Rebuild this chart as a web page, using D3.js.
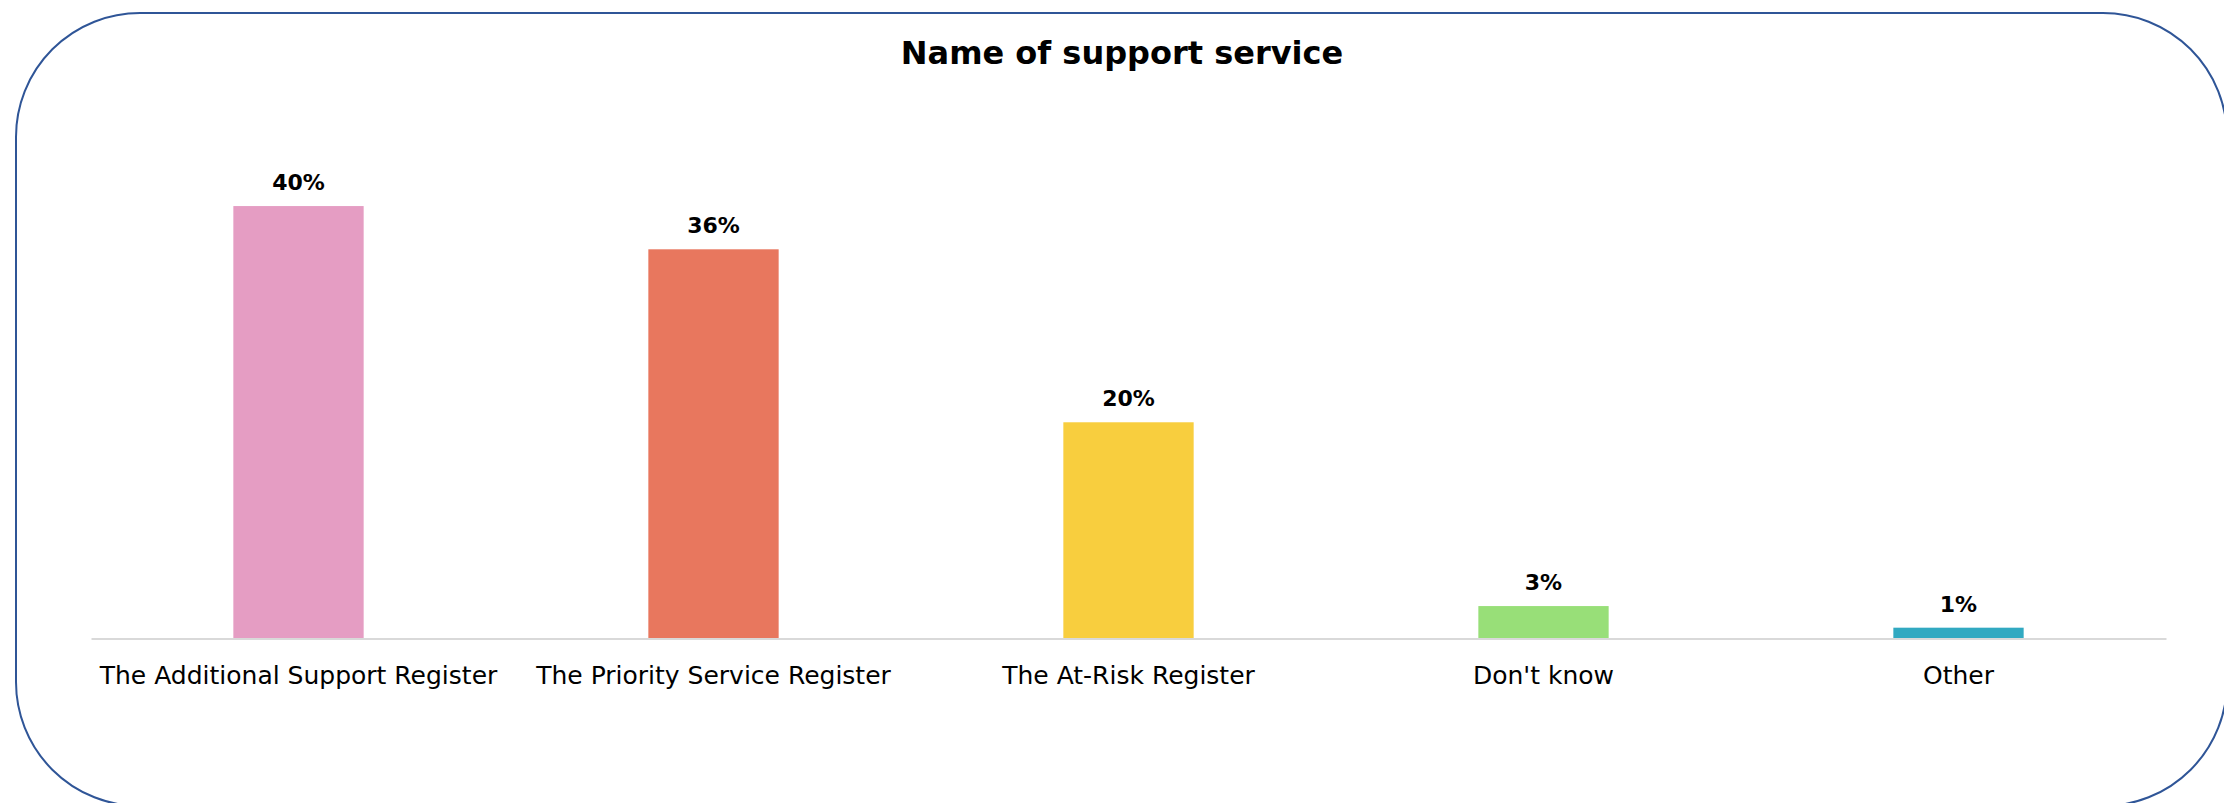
<!DOCTYPE html>
<html>
<head>
<meta charset="utf-8">
<script src="https://cdn.jsdelivr.net/npm/d3@7"></script>
<style>
  html, body { margin: 0; padding: 0; background: #fff; }
  svg { display: block; }
  text { font-family: "Century Gothic", "DejaVu Sans", sans-serif; }
</style>
</head>
<body>
<svg id="chart" width="2224" height="803"></svg>
<script>
// Survey responses: which register the support service is known as
const categories = [
  "The Additional Support Register",
  "The Priority Service Register",
  "The At-Risk Register",
  "Don't know",
  "Other"
];
const shares = [40, 36, 20, 3, 1];
const barColors = ["#E59DC3", "#E8775E", "#F8CE3E", "#98DF78", "#31A9C1"];
const title = "Name of support service";

const W = 2224, H = 803;
const svg = d3.select("#chart");

// rounded outer frame
svg.append("rect")
  .attr("x", 16).attr("y", 13)
  .attr("width", 2211).attr("height", 793)
  .attr("rx", 124).attr("ry", 124)
  .attr("fill", "#fff")
  .attr("stroke", "#2F5597")
  .attr("stroke-width", 2);

const plot = { left: 91, right: 2166, top: 152, bottom: 638.5 };

const x = d3.scaleBand()
  .domain(categories)
  .range([plot.left, plot.right])
  .paddingInner(0.686)
  .paddingOuter(0.343);

const y = d3.scaleLinear()
  .domain([0, 45])
  .range([plot.bottom, plot.top]);

const data = categories.map((c, i) => ({ cat: c, v: shares[i], color: barColors[i] }));

// bars
svg.append("g")
  .selectAll("rect")
  .data(data)
  .join("rect")
  .attr("x", d => x(d.cat))
  .attr("y", d => y(d.v))
  .attr("width", x.bandwidth())
  .attr("height", d => y(0) - y(d.v))
  .attr("fill", d => d.color);

// category axis
const axis = svg.append("g")
  .attr("transform", `translate(0,${plot.bottom})`)
  .call(d3.axisBottom(x).tickSize(0).tickPadding(28).tickSizeOuter(0));
axis.select(".domain")
  .attr("stroke", "#D9D9D9")
  .attr("stroke-width", 2);
axis.selectAll(".tick text")
  .attr("fill", "#000")
  .style("font-size", "25px")
  .style("font-family", "\"Century Gothic\", \"DejaVu Sans\", sans-serif");

// value labels
svg.append("g")
  .selectAll("text")
  .data(data)
  .join("text")
  .attr("x", d => x(d.cat) + x.bandwidth() / 2)
  .attr("y", d => y(d.v) - 16)
  .attr("text-anchor", "middle")
  .attr("font-size", 22)
  .attr("font-weight", "bold")
  .attr("fill", "#000")
  .text(d => d.v + "%");

// title
svg.append("text")
  .attr("x", 1122)
  .attr("y", 64)
  .attr("text-anchor", "middle")
  .attr("font-size", 32)
  .attr("font-weight", "bold")
  .attr("fill", "#000")
  .text(title);
</script>
</body>
</html>
